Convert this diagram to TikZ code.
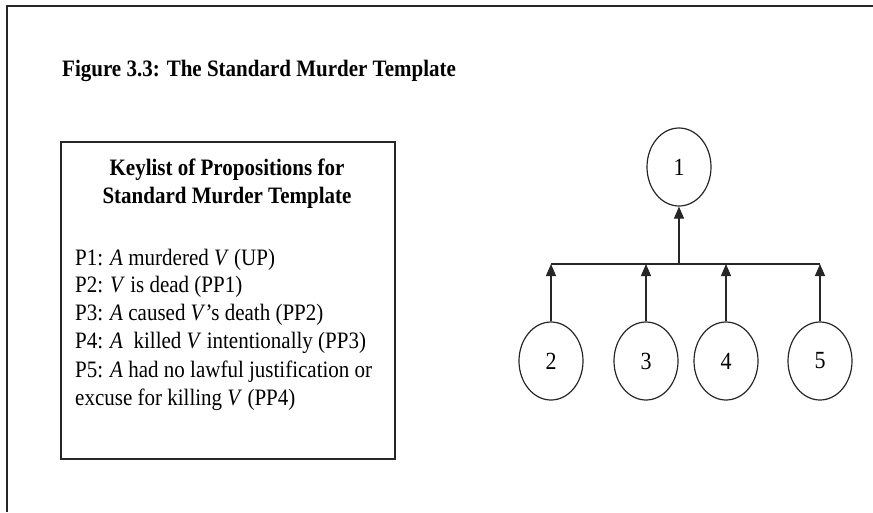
\documentclass[tikz,border=0pt]{standalone}
\usepackage{fontspec}
\setmainfont{Liberation Serif}
\usetikzlibrary{arrows.meta,shapes.geometric}
% text set slightly taller than its natural shape
\newcommand{\tallbox}[1]{\scalebox{1}[1.12]{#1}}
\begin{document}
\begin{tikzpicture}[x=1pt,y=-1pt,
  prop/.style={ellipse,draw=black!85,line width=1.2pt,minimum width=64pt,minimum height=78pt,inner sep=0pt,font=\fontsize{22}{24}\selectfont},
  keyline/.style={anchor=base west,inner sep=0pt,font=\fontsize{21}{24}\selectfont},
  keyhead/.style={anchor=base,inner sep=0pt,font=\fontsize{21}{24}\selectfont\bfseries},
  link/.style={line width=1.2pt,draw=black!85},
  uparrow/.style={link,-{Triangle[length=12pt,width=10pt]}}]
  \useasboundingbox (0,0) rectangle (873,512);
  % page frame (left and top edges)
  \draw[line width=2pt,black!85] (7,512) -- (7,6) -- (873,6);
  % caption
  \node[anchor=base west,inner sep=0pt,font=\fontsize{21}{24}\selectfont\bfseries] (title) at (62,76) {\tallbox{Figure 3.3: The Standard Murder Template}};
  % keylist box
  \draw[line width=1.2pt,black!85] (61,142) rectangle (395,459);
  \node[keyhead] (kh1) at (227,175) {\tallbox{Keylist of Propositions for}};
  \node[keyhead] (kh2) at (227,203) {\tallbox{Standard Murder Template}};
  \node[keyline] (p1) at (75,265) {\tallbox{P1: \textit{A} murdered \textit{V} (UP)}};
  \node[keyline] (p2) at (75,292) {\tallbox{P2: \textit{V} is dead (PP1)}};
  \node[keyline] (p3) at (75,320) {\tallbox{P3: \textit{A} caused \textit{V}’s death (PP2)}};
  \node[keyline] (p4) at (75,348) {\tallbox{P4: \textit{A}\hspace{0.25em} killed \textit{V} intentionally (PP3)}};
  \node[keyline] (p5) at (75,377) {\tallbox{P5: \textit{A} had no lawful justification or}};
  \node[keyline] (p6) at (75,405) {\tallbox{excuse for killing \textit{V} (PP4)}};
  % argument tree
  \node[prop] (n1) at (679,167) {\tallbox{1}};
  \node[prop] (n2) at (551,361) {\tallbox{2}};
  \node[prop] (n3) at (646,361) {\tallbox{3}};
  \node[prop] (n4) at (726,361) {\tallbox{4}};
  \node[prop] (n5) at (820,361) {\tallbox{5}};
  \coordinate (b2) at (n2.north |- 0,264);
  \coordinate (b5) at (n5.north |- 0,264);
  \coordinate (b1) at (n1.south |- 0,264);
  \draw[link] (b2) -- (b5);
  \draw[uparrow] (b1) -- (n1.south);
  \foreach \n in {n2,n3,n4,n5}
    \draw[uparrow] (\n.north) -- (\n.north |- b1);
\end{tikzpicture}
\end{document}
